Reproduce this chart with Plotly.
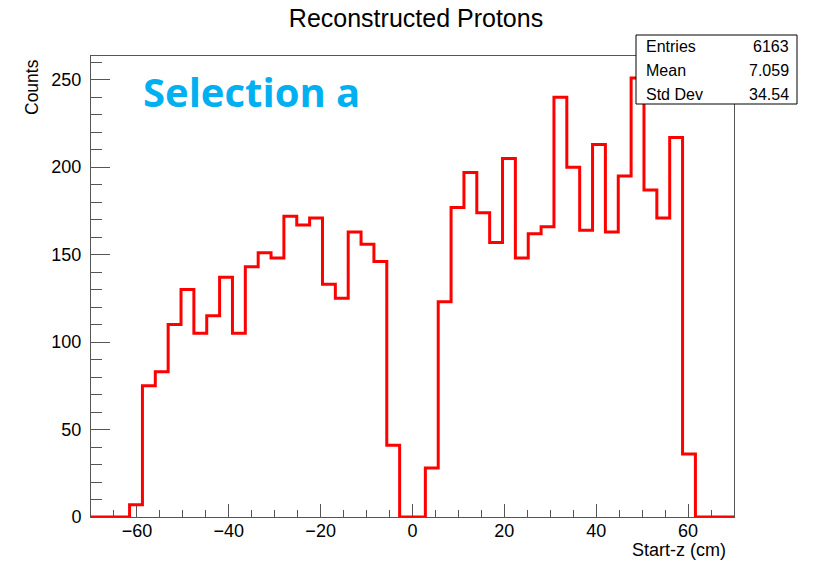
import plotly.graph_objects as go

# Histogram binning: 50 bins of 2.8 cm between -70 and 70 cm
x_min = -70.0
x_max = 70.0
n_bins = 50

# Bin contents (counts), one per bin from left to right
counts = [
    0, 0, 0, 7, 75, 83, 110, 130, 105, 115,
    137, 105, 143, 151, 148, 172, 167, 171, 133, 125,
    163, 156, 146, 41, 0, 0, 28, 123, 177, 197,
    174, 157, 205, 148, 162, 166, 240, 200, 164, 213,
    163, 195, 251, 187, 171, 217, 36, 0, 0, 0,
]

stat_labels = ["Entries", "Mean", "Std Dev"]
stat_values = ["6163", "7.059", "34.54"]

y_ticks = [0, 50, 100, 150, 200, 250]
x_ticks = [-60, -40, -20, 0, 20, 40, 60]

width = (x_max - x_min) / n_bins
edges = [x_min + i * width for i in range(n_bins + 1)]
step_x = edges
step_y = counts + [counts[-1]]

y_top = max(counts) * 1.05

W, H = 818, 563
ML, MR, MT, MB = 91, 84, 56, 46
PW, PH = W - ML - MR, H - MT - MB


def px(xp):
    return (xp - ML) / PW


def py(yp):
    return (H - MB - yp) / PH


FONT = "Liberation Sans, Arial, Helvetica, sans-serif"
AXIS_COLOR = "#555555"

fig = go.Figure()
fig.add_trace(go.Scatter(
    x=step_x, y=step_y, mode="lines", line_shape="hv",
    line=dict(color="#ff0000", width=3), hoverinfo="skip",
    showlegend=False,
))

fig.update_layout(
    width=W, height=H,
    margin=dict(l=ML, r=MR, t=MT, b=MB),
    paper_bgcolor="white", plot_bgcolor="white",
    font=dict(family=FONT, color="black", size=18),
    title=dict(text="Reconstructed Protons", x=416 / W, xanchor="center",
               y=1 - 18 / H, yanchor="middle",
               font=dict(family=FONT, size=25, color="black")),
    showlegend=False,
)

fig.update_xaxes(
    range=[x_min, x_max], tickmode="array", tickvals=x_ticks,
    ticktext=[("\u2212" + str(-v)) if v < 0 else str(v) for v in x_ticks],
    ticks="inside", ticklen=13, tickwidth=1, tickcolor=AXIS_COLOR,
    minor=dict(ticks="inside", dtick=5, tick0=0, ticklen=7,
               tickcolor=AXIS_COLOR, tickwidth=1),
    showline=True, linecolor=AXIS_COLOR, linewidth=1, mirror=True,
    showgrid=False, zeroline=False, layer="below traces",
    tickfont=dict(family=FONT, size=18, color="black"),
    ticklabelstandoff=-3,
)
fig.update_yaxes(
    range=[0, y_top], tickmode="array", tickvals=y_ticks,
    ticks="inside", ticklen=19, tickwidth=1, tickcolor=AXIS_COLOR,
    minor=dict(ticks="inside", dtick=10, tick0=0, ticklen=11,
               tickcolor=AXIS_COLOR, tickwidth=1),
    showline=True, linecolor=AXIS_COLOR, linewidth=1, mirror=True,
    showgrid=False, zeroline=False, layer="below traces",
    tickfont=dict(family=FONT, size=18, color="black"),
    ticklabelstandoff=5,
)

annotations = [
    dict(text="Counts", x=px(31.5), y=py(87.5), xref="paper", yref="paper",
         textangle=-90, showarrow=False, xanchor="center", yanchor="middle",
         font=dict(family=FONT, size=17.5, color="black")),
    dict(text="Start-z (cm)", x=px(728), y=py(550), xref="paper", yref="paper",
         showarrow=False, xanchor="right", yanchor="middle",
         font=dict(family=FONT, size=18, color="black")),
    dict(text="<b>Selection a</b>", x=px(141), y=py(91), xref="paper",
         yref="paper", showarrow=False, xanchor="left", yanchor="middle",
         font=dict(family="Open Sans, Lato, sans-serif", size=40,
                   color="#00b0f0")),
]

row_y = [47, 71, 94]
for label, value, ry in zip(stat_labels, stat_values, row_y):
    annotations.append(dict(text=label, x=px(644), y=py(ry), xref="paper",
                            yref="paper", showarrow=False, xanchor="left",
                            yanchor="middle",
                            font=dict(family=FONT, size=16, color="black")))
    annotations.append(dict(text=value, x=px(791), y=py(ry), xref="paper",
                            yref="paper", showarrow=False, xanchor="right",
                            yanchor="middle",
                            font=dict(family=FONT, size=16, color="black")))

fig.update_layout(annotations=annotations)

# Statistics box
fig.add_shape(type="rect", xref="paper", yref="paper",
              x0=px(636), x1=px(797), y0=py(104), y1=py(35),
              line=dict(color="black", width=1), fillcolor="white",
              layer="above")

fig.write_html("out.html")
